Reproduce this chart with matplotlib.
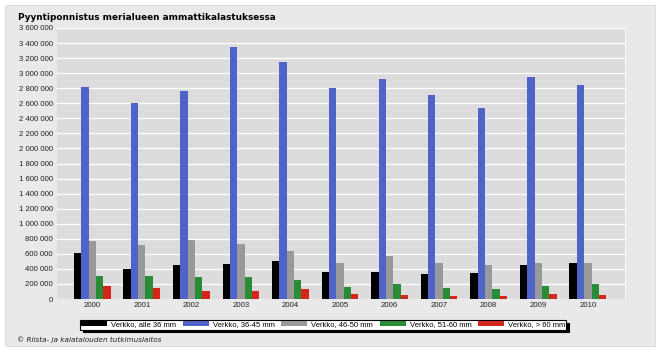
import matplotlib
matplotlib.use("Agg")
import matplotlib.pyplot as plt
import numpy as np
from matplotlib.patches import Rectangle
from matplotlib.ticker import FuncFormatter

years = ["2000", "2001", "2002", "2003", "2004", "2005", "2006", "2007", "2008", "2009", "2010"]
series_names = ["Verkko, alle 36 mm", "Verkko, 36-45 mm", "Verkko, 46-50 mm",
                "Verkko, 51-60 mm", "Verkko, > 60 mm"]
alle36 = [607000, 403000, 447000, 465000, 505000, 358000, 358000, 327000, 341000, 456000, 474000]
v36_45 = [2810000, 2607000, 2766000, 3351000, 3143000, 2800000, 2920000, 2713000, 2540000, 2944000, 2840000]
v46_50 = [770000, 713000, 779000, 730000, 637000, 482000, 567000, 474000, 456000, 482000, 474000]
v51_60 = [310000, 305000, 288000, 296000, 257000, 155000, 199000, 146000, 133000, 177000, 199000]
yli60 = [168000, 150000, 110000, 102000, 133000, 62000, 53000, 36000, 40000, 71000, 49000]
colors = ["#000000", "#5063c9", "#999999", "#2b8c38", "#d5261c"]

W, H = 659, 352
fig = plt.figure(figsize=(W / 100, H / 100), dpi=100)
fig.patch.set_facecolor("white")
# outer panel
fig.patches.append(Rectangle((5 / W, 6 / H), 650 / W, 341 / H, transform=fig.transFigure,
                             facecolor="#e9e9e9", edgecolor="#dedede", lw=0.8, zorder=-5))

ax = fig.add_axes([57 / W, (H - 299) / H, 569 / W, 271 / H])
ax.set_facecolor("#dcdcdc")

data = [alle36, v36_45, v46_50, v51_60, yli60]
x = np.arange(len(years))
bw = 0.148
for i, (vals, c, name) in enumerate(zip(data, colors, series_names)):
    ax.bar(x + (i - 2) * bw, vals, width=bw, color=c, label=name, zorder=3, linewidth=0)

ax.set_xlim(-0.71, 10.77)
ax.set_ylim(0, 3600000)
ax.set_yticks(np.arange(0, 3600001, 200000))
ax.yaxis.set_major_formatter(FuncFormatter(lambda v, p: f"{int(v):,}".replace(",", " ")))
ax.set_xticks(x)
ax.set_xticklabels(years)
ax.tick_params(axis="both", length=0, labelsize=5.6, colors="#222222", pad=2.5)
ax.tick_params(axis="y", pad=3)
for lab in ax.get_xticklabels() + ax.get_yticklabels():
    lab.set_family("Liberation Sans")
ax.grid(axis="y", color="white", lw=0.9, zorder=1)
for s in ax.spines.values():
    s.set_visible(False)
ax.axvline(10.77, color="white", lw=1.2, zorder=2)

fig.text(18 / W, 1 - 17 / H, "Pyyntiponnistus merialueen ammattikalastuksessa",
         fontsize=6.4, fontweight="bold", va="center", ha="left")

leg = fig.legend(loc="center left", bbox_to_anchor=(80 / W, 1 - 325 / H), ncol=5,
                 prop={"family": "Liberation Sans", "size": 5.5},
                 frameon=True, fancybox=False, edgecolor="black",
                 framealpha=1, borderpad=0.15, handlelength=3.4, handleheight=0.55,
                 handletextpad=0.5, columnspacing=0.9, borderaxespad=0,
                 shadow={"facecolor": "black", "edgecolor": "black", "alpha": 1})
leg.get_frame().set_linewidth(0.8)

fig.text(17 / W, 1 - 340 / H, "\u00a9 Riista- ja kalatalouden tutkimuslaitos",
         fontsize=5.2, style="italic", va="center", ha="left", color="#222222")

fig.savefig("out.png", dpi=100, facecolor=fig.get_facecolor())
